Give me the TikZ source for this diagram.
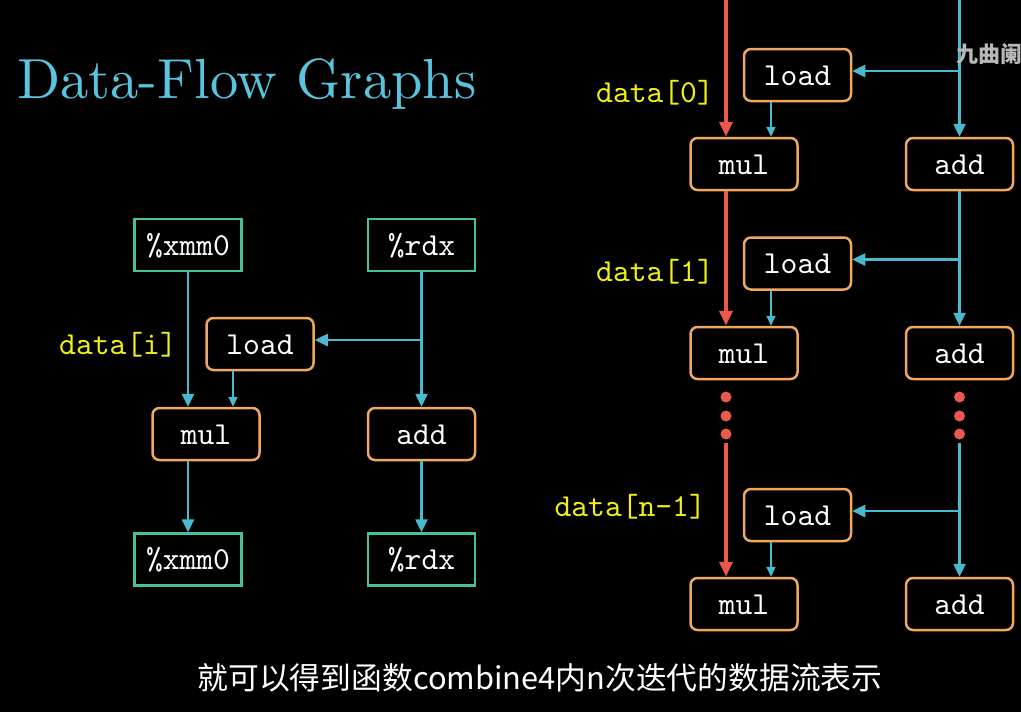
\documentclass[tikz,border=0pt]{standalone}
\usepackage{fontspec}
\newfontfamily\cjk{Noto Sans CJK SC}
\newfontfamily\titlefont{lmroman10-regular}[Extension=.otf]
\newfontfamily\codefont{lmmono10-regular}[Extension=.otf]
\usetikzlibrary{arrows.meta, positioning, calc}
\definecolor{titleteal}{RGB}{88,196,221}
\definecolor{flowblue}{RGB}{72,186,208}
\definecolor{opborder}{RGB}{240,168,96}
\definecolor{reggreen}{RGB}{72,192,152}
\definecolor{chainred}{RGB}{236,88,76}
\definecolor{lblyellow}{RGB}{240,240,20}
\tikzset{
    opbox/.style={draw=opborder, line width=2.5pt, rounded corners=7pt,
        minimum width=107pt, minimum height=52pt, inner sep=0pt,
        text=white, text height=20pt, text depth=0pt,
        font=\codefont\fontsize{32}{36}\selectfont},
    regbox/.style={opbox, draw=reggreen, sharp corners},
    idxlbl/.style={text=lblyellow, inner sep=0pt, anchor=east,
        text height=20pt, text depth=0pt,
        font=\codefont\fontsize{32}{36}\selectfont},
    flow/.style={flowblue, line width=2.5pt, -{Triangle[length=13pt,width=12pt]}},
    flowsm/.style={flowblue, line width=1.8pt, -{Triangle[length=10pt,width=9pt]}},
    chain/.style={chainred, line width=4pt, -{Triangle[length=15pt,width=13pt]}}
}

\begin{document}
\begin{tikzpicture}[x=1pt, y=-1pt]
    \fill[black] (0,0) rectangle (1021,712);
    \path[use as bounding box, clip] (0,0) rectangle (1021,712);
    \node[anchor=base west, inner sep=0pt, text=titleteal,
        font=\titlefont\fontsize{56.5}{60}\selectfont] (title) at (17,98) {Data-Flow Graphs};

    % one iteration
    \node[regbox] (xin)  at (188,245)   {\%xmm0};
    \node[regbox] (rin)  at (421.5,245) {\%rdx};
    \node[opbox]  (load) at (260,344)   {load};
    \node[opbox]  (mul)  at (206,434)   {mul};
    \node[opbox]  (add)  at (421.5,434) {add};
    \node[regbox] (xout) at (188,559.5) {\%xmm0};
    \node[regbox] (rout) at (421.5,559.5) {\%rdx};
    \node[idxlbl] (di)   at (177,344)   {data[i]};
    \draw[flow] (xin.south) -- (xin.south |- mul.north);
    \draw[flow] (rin) -- (add);
    \coordinate (lin) at ([yshift=4pt]load.east);
    \draw[flow] (rin.south |- lin) -- (lin);
    \coordinate (lout) at ([xshift=-27pt]load.south);
    \draw[flowsm] (lout) -- (lout |- mul.north);
    \draw[flow] (mul.south -| xin) -- (xout.north);
    \draw[flow] (add) -- (rout);

    % n iterations
    \coordinate (redtop)   at (726,0);
    \coordinate (bluetop)  at (959.5,0);
    \coordinate (reddots)  at (726,443);
    \coordinate (bluedots) at (959.5,443);
    \foreach \r/\ly/\my in {1/75/164, 2/263.5/353, 3/515/604} {
        \node[opbox] (ld\r) at (797.5,\ly) {load};
        \node[opbox] (mu\r) at (744,\my)   {mul};
        \node[opbox] (ad\r) at (959.5,\my) {add};
    }
    \node[idxlbl] (d0) at (714,92)  {data[0]};
    \node[idxlbl] (d1) at (714,271) {data[1]};
    \node[idxlbl] (dn) at (706,506) {data[n-1]};
    \foreach \y in {397,416,434} {
        \fill[chainred] (726,\y) circle (5.5pt);
        \fill[chainred] (959.5,\y) circle (5.5pt);
    }
    \foreach \r/\rsrc/\bsrc in {1/redtop/bluetop, 2/mu1.south/ad1.south, 3/reddots/bluedots} {
        \draw[chain] (\rsrc -| redtop) -- (mu\r.north -| redtop);
        \draw[flow] (\bsrc -| bluetop) -- (ad\r.north -| bluetop);
        \coordinate (lin\r) at ([yshift=4pt]ld\r.east);
        \draw[flow] (bluetop |- lin\r) -- (lin\r);
        \coordinate (lo\r) at ([xshift=-26.5pt]ld\r.south);
        \draw[flowsm] (lo\r) -- (lo\r |- mu\r.north);
    }

    \node[anchor=west, inner sep=0pt, text=white!72!black,
        font=\cjk\bfseries\fontsize{22}{24}\selectfont] (mark) at (956,54) {九曲阑};
    \node[text=white, inner sep=0pt, font=\cjk\fontsize{30.8}{34}\selectfont]
        (caption) at (540,678) {就可以得到函数combine4内n次迭代的数据流表示};
\end{tikzpicture}
\end{document}
